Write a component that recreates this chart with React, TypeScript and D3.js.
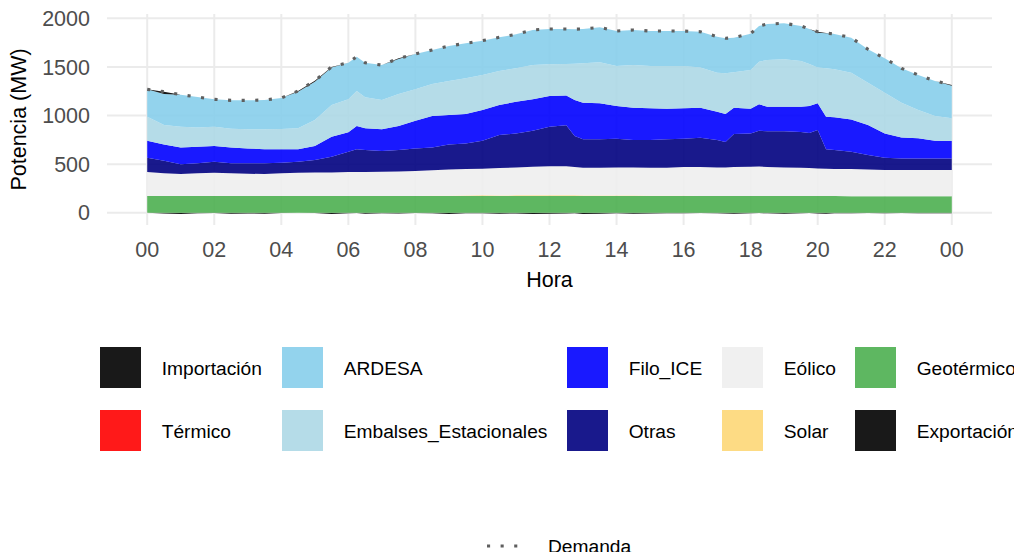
import React from 'react';
import * as d3 from 'd3';

// ---- Data (MW) ----
const horas = [0, 0.5, 1, 1.5, 2, 2.5, 3, 3.5, 4, 4.5, 5, 5.5, 6, 6.25, 6.5, 7, 7.5, 8, 8.5, 9, 9.5, 10, 10.5, 11, 11.5, 12, 12.5, 12.75, 13, 13.5, 14, 14.5, 15, 15.5, 16, 16.5, 17, 17.25, 17.5, 18, 18.25, 18.5, 19, 19.5, 19.75, 20, 20.25, 20.5, 21, 21.5, 22, 22.5, 23, 23.5, 24];

const geotermico = [172, 172, 171, 171, 172, 172, 171, 171, 172, 172, 172, 171, 171, 171, 172, 172, 171, 171, 172, 172, 173, 173, 172, 172, 172, 173, 173, 173, 172, 172, 172, 173, 172, 172, 172, 171, 171, 171, 172, 172, 172, 172, 172, 171, 171, 171, 171, 171, 170, 170, 170, 170, 170, 170, 170];
const solar = [0, 0, 0, 0, 0, 0, 0, 0, 0, 0, 0, 0, 0, 0, 0, 0, 1, 2, 3, 4, 5, 6, 6, 7, 7, 7, 7, 7, 6, 6, 5, 5, 4, 3, 2, 1, 0, 0, 0, 0, 0, 0, 0, 0, 0, 0, 0, 0, 0, 0, 0, 0, 0, 0, 0];
const eolico = [246, 233, 227, 234, 240, 233, 230, 227, 233, 240, 243, 244, 247, 249, 248, 250, 253, 256, 261, 270, 272, 274, 282, 287, 294, 298, 298, 290, 285, 285, 289, 288, 287, 288, 296, 298, 295, 295, 298, 301, 303, 298, 294, 292, 289, 285, 281, 279, 279, 275, 269, 269, 269, 269, 269];
const otras = [148, 130, 102, 103, 113, 103, 107, 110, 110, 113, 127, 161, 210, 232, 225, 213, 220, 233, 236, 257, 263, 288, 339, 350, 371, 407, 422, 319, 292, 292, 295, 282, 285, 292, 291, 302, 282, 261, 339, 343, 369, 367, 371, 367, 360, 395, 200, 195, 179, 148, 127, 120, 120, 120, 120];
const filoICE = [175, 168, 172, 171, 161, 164, 154, 144, 137, 127, 144, 206, 200, 240, 223, 223, 247, 285, 323, 302, 302, 315, 309, 326, 322, 315, 307, 370, 377, 370, 337, 332, 326, 315, 313, 308, 291, 288, 271, 254, 271, 254, 254, 261, 278, 274, 336, 336, 332, 309, 250, 216, 206, 182, 178];
const embalses = [247, 199, 213, 199, 199, 192, 196, 206, 209, 216, 268, 326, 338, 360, 319, 301, 329, 322, 329, 350, 367, 361, 350, 343, 353, 326, 323, 374, 405, 422, 411, 439, 435, 439, 435, 415, 402, 419, 364, 398, 439, 480, 487, 470, 432, 370, 497, 494, 481, 436, 419, 357, 291, 254, 234];
const ardesa = [281, 318, 329, 312, 281, 292, 298, 301, 319, 377, 394, 387, 377, 353, 356, 360, 359, 364, 350, 360, 360, 353, 346, 350, 361, 364, 360, 355, 353, 360, 360, 361, 360, 360, 360, 367, 370, 360, 357, 373, 367, 370, 370, 360, 360, 357, 360, 363, 360, 343, 353, 353, 361, 360, 336];
const termico = [0, 0, 0, 0, 0, 0, 0, 0, 0, 0, 0, 0, 0, 0, 0, 0, 0, 0, 0, 0, 0, 0, 0, 0, 0, 0, 0, 0, 0, 0, 0, 0, 0, 0, 0, 0, 0, 0, 0, 0, 0, 0, 0, 0, 0, 0, 0, 0, 0, 0, 0, 0, 0, 0, 0];
const importacion = [0, 25, 0, 0, 0, 0, 0, 0, 0, 7, 10, 5, 0, 0, 0, 0, 8, 0, 0, 0, 0, 0, 0, 0, 0, 0, 0, 0, 0, 0, 0, 0, 0, 0, 0, 0, 0, 0, 0, 0, 0, 0, 0, 0, 0, 10, 3, 0, 0, 0, 0, 0, 0, 0, 6];
const exportacion = [0, -8, -12, -5, -3, -10, -8, -10, -3, 0, -2, -12, -5, -3, -10, -5, -8, -3, -5, -12, -6, -4, -10, -8, -12, -10, -8, -5, -12, -10, -6, -10, -8, -4, -6, -3, -5, -8, -10, -5, -3, -6, -10, -5, -3, -8, -10, -6, -4, -3, -5, -3, -6, -4, -6];
const demanda = [1269, 1245, 1214, 1190, 1166, 1156, 1156, 1159, 1180, 1252, 1358, 1500, 1543, 1605, 1543, 1519, 1588, 1633, 1674, 1715, 1742, 1770, 1804, 1835, 1880, 1890, 1890, 1888, 1890, 1907, 1869, 1880, 1869, 1869, 1869, 1862, 1811, 1794, 1801, 1841, 1921, 1941, 1948, 1921, 1890, 1862, 1848, 1838, 1801, 1681, 1588, 1485, 1417, 1355, 1313];

const xTicks = [0, 2, 4, 6, 8, 10, 12, 14, 16, 18, 20, 22, 24];
const xTickLabels = ['00', '02', '04', '06', '08', '10', '12', '14', '16', '18', '20', '22', '00'];
const yTicks = [0, 500, 1000, 1500, 2000];

// stacking order bottom -> top (positive generation)
const positiveKeys = ['Geotérmico', 'Solar', 'Eólico', 'Otras', 'Filo_ICE', 'Embalses_Estacionales', 'ARDESA', 'Térmico', 'Importación'];
const negativeKeys = ['Exportación'];
const seriesValues: Record<string, number[]> = {
  'Exportación': exportacion,
  'Geotérmico': geotermico,
  'Solar': solar,
  'Eólico': eolico,
  'Otras': otras,
  'Filo_ICE': filoICE,
  'Embalses_Estacionales': embalses,
  'ARDESA': ardesa,
  'Térmico': termico,
  'Importación': importacion,
};
const colores: Record<string, string> = {
  'Importación': '#000000',
  'Térmico': '#FF0000',
  'ARDESA': '#87CEEB',
  'Embalses_Estacionales': '#ADD8E6',
  'Filo_ICE': '#0000FF',
  'Otras': '#000080',
  'Eólico': '#EEEEEE',
  'Solar': '#FDD777',
  'Geotérmico': '#4CAF50',
  'Exportación': '#000000',
};
// legend columns (2 rows each)
const legendColumns = [
  ['Importación', 'Térmico'],
  ['ARDESA', 'Embalses_Estacionales'],
  ['Filo_ICE', 'Otras'],
  ['Eólico', 'Solar'],
  ['Geotérmico', 'Exportación'],
];

// ---- Layout ----
const W = 1014;
const H = 552;
const panel = { left: 107, right: 992, top: 14, bottom: 225 };
const FONT = '"Liberation Sans", Arial, Helvetica, sans-serif';
const legendColX = [100, 282, 567, 722, 855];
const legendRowY = [367.5, 430.5];
const keySize = 41;

export default function App() {
  const x = d3.scaleLinear().domain([-1.2, 25.2]).range([panel.left, panel.right]);
  const y = d3.scaleLinear().domain([-126, 2044]).range([panel.bottom, panel.top]);

  const rows = horas.map((h, i) => {
    const r: any = { hora: h };
    Object.keys(seriesValues).forEach((k) => { r[k] = seriesValues[k][i]; });
    return r;
  });

  const stackedPos = d3.stack<any>().keys(positiveKeys).offset(d3.stackOffsetNone)(rows);
  const stackedNeg = d3.stack<any>().keys(negativeKeys).offset(d3.stackOffsetNone)(rows);
  const stacked = [...stackedNeg, ...stackedPos];

  const area = d3.area<any>()
    .x((d) => x(d.data.hora))
    .y0((d) => y(d[0]))
    .y1((d) => y(d[1]));

  const demLine = d3.line<number>()
    .x((_, i) => x(horas[i]))
    .y((d) => y(d));

  return (
    <svg width={W} height={H} style={{ position: 'absolute', left: 0, top: 0, display: 'block', background: '#fff' }} fontFamily={FONT}>
      {/* grid */}
      {yTicks.map((t) => (
        <line key={'gy' + t} x1={panel.left} x2={panel.right} y1={y(t)} y2={y(t)} stroke="#EBEBEB" strokeWidth={2} />
      ))}
      {xTicks.map((t, i) => (
        <line key={'gx' + i} x1={x(t)} x2={x(t)} y1={panel.top} y2={panel.bottom} stroke="#EBEBEB" strokeWidth={2} />
      ))}

      {/* areas */}
      {stacked.map((s) => (
        <path key={s.key} d={area(s) || ''} fill={colores[s.key]} fillOpacity={0.9} stroke="none" />
      ))}

      {/* demand */}
      <path d={demLine(demanda) || ''} fill="none" stroke="#5F5F5F" strokeWidth={3.1} strokeDasharray="3.1 10.5" />

      {/* y axis labels */}
      {yTicks.map((t) => (
        <text key={'ly' + t} x={90} y={y(t) + 7.7} textAnchor="end" fontSize={21.5} fill="#4D4D4D">{t}</text>
      ))}
      {/* x axis labels */}
      {xTicks.map((t, i) => (
        <text key={'lx' + i} x={x(t)} y={257.3} textAnchor="middle" fontSize={21.5} fill="#4D4D4D">{xTickLabels[i]}</text>
      ))}
      {/* titles */}
      <text x={(panel.left + panel.right) / 2} y={286.5} textAnchor="middle" fontSize={21.5} fill="#000">Hora</text>
      <text transform={`translate(25.5, ${(panel.top + panel.bottom) / 2}) rotate(-90)`} textAnchor="middle" fontSize={21.5} fill="#000">Potencia (MW)</text>

      {/* fill legend */}
      {legendColumns.map((col, ci) => col.map((name, ri) => (
        <g key={name}>
          <rect x={legendColX[ci]} y={legendRowY[ri] - keySize / 2} width={keySize} height={keySize} fill={colores[name]} fillOpacity={0.9} />
          <text x={legendColX[ci] + keySize + 20.7} y={legendRowY[ri] + 7.8} fontSize={19.2} fill="#000">{name}</text>
        </g>
      )))}

      {/* demand legend */}
      <line x1={484} x2={525} y1={546} y2={546} stroke="#5F5F5F" strokeWidth={3.1} strokeDasharray="3.1 10.5" strokeDashoffset={-3} />
      <text x={548} y={553} fontSize={19.2} fill="#000">Demanda</text>
    </svg>
  );
}
